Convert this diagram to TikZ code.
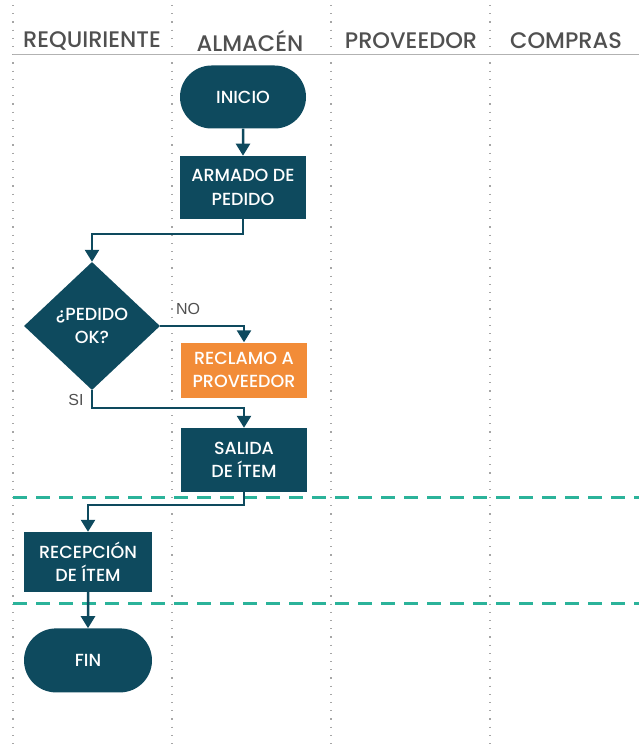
\documentclass[tikz,border=0pt]{standalone}
\usepackage{fontspec}
\setmainfont{Poppins}
\newfontfamily\medfont{Poppins Medium}
\newfontfamily\labelfont{Liberation Sans}
\usetikzlibrary{shapes.geometric, arrows.meta, shapes.misc, positioning}

\definecolor{petrol}{HTML}{0E4A5E}
\definecolor{naranja}{HTML}{F28C38}
\definecolor{verdeagua}{HTML}{2BB39A}
\definecolor{gristexto}{HTML}{505050}

\tikzset{
    lane/.style={gray!70, line width=1.2pt, dash pattern=on 1.2pt off 7pt},
    phase/.style={verdeagua, line width=3pt, dash pattern=on 14pt off 9pt},
    header/.style={text=gristexto, font=\medfont\fontsize{22.5}{22}\selectfont},
    box/.style={rectangle, fill=petrol, text=white, align=center, inner sep=0pt,
        minimum width=126pt, minimum height=63pt,
        font=\medfont\fontsize{17.5}{23.5}\selectfont},
    terminal/.style={box, rounded rectangle},
    decision/.style={box, diamond, minimum width=136pt, minimum height=128pt},
    warn/.style={box, fill=naranja},
    answer/.style={text=gristexto, font=\labelfont\fontsize{16}{16}\selectfont, inner sep=0pt},
    flow/.style={petrol, line width=2.5pt, -{Triangle[width=14pt,length=12pt]}},
}

\begin{document}
\begin{tikzpicture}[x=1pt, y=-1pt]
    \useasboundingbox (0,0) rectangle (639,749);

    % lanes
    \foreach \x in {13,172,331,490}
        \draw [lane] (\x,5) -- (\x,749);
    \draw [gray!60, line width=1pt] (13,55) -- (639,55);
    \node [header] (hreq)  at (92,41)  {REQUIRIENTE};
    \node [header] (halm)  at (250,41) {ALMACÉN};
    \node [header] (hprov) at (411,41) {PROVEEDOR};
    \node [header] (hcomp) at (566,41) {COMPRAS};

    % phases
    \draw [phase] (13,497) -- (639,497);
    \draw [phase] (13,603) -- (639,603);

    % nodes
    \node [terminal] (inicio) at (243,97) {INICIO};
    \node [box, below=27pt of inicio] (armado) {ARMADO DE\\PEDIDO};
    \node [decision] (pedidook) at (92,326) {¿PEDIDO\\OK?};
    \node [warn, minimum height=55pt] (reclamo) at (244,370) {RECLAMO A\\PROVEEDOR};
    \node [box, minimum height=64pt] (salida) at (244,460) {SALIDA\\DE ÍTEM};
    \node [box, minimum width=128pt, minimum height=60pt] (recepcion) at (88,562) {RECEPCIÓN\\DE ÍTEM};
    \node [terminal, minimum width=128pt, minimum height=64pt, below=36pt of recepcion] (fin) {FIN};

    \node [answer] (no) at (188,309) {NO};
    \node [answer] (si) at (76,400) {SI};

    % connectors
    \draw [flow] (inicio) -- (armado);
    \draw [flow] (armado.south) -- ++(0,15) -| (pedidook.north);
    \draw [flow] (pedidook.east) -| (reclamo.north);
    \draw [flow] (pedidook.south) -- ++(0,18) -| (salida.north);
    \draw [flow] (salida.south) -- ++(0,13) -| (recepcion.north);
    \draw [flow] (recepcion) -- (fin);
\end{tikzpicture}
\end{document}
